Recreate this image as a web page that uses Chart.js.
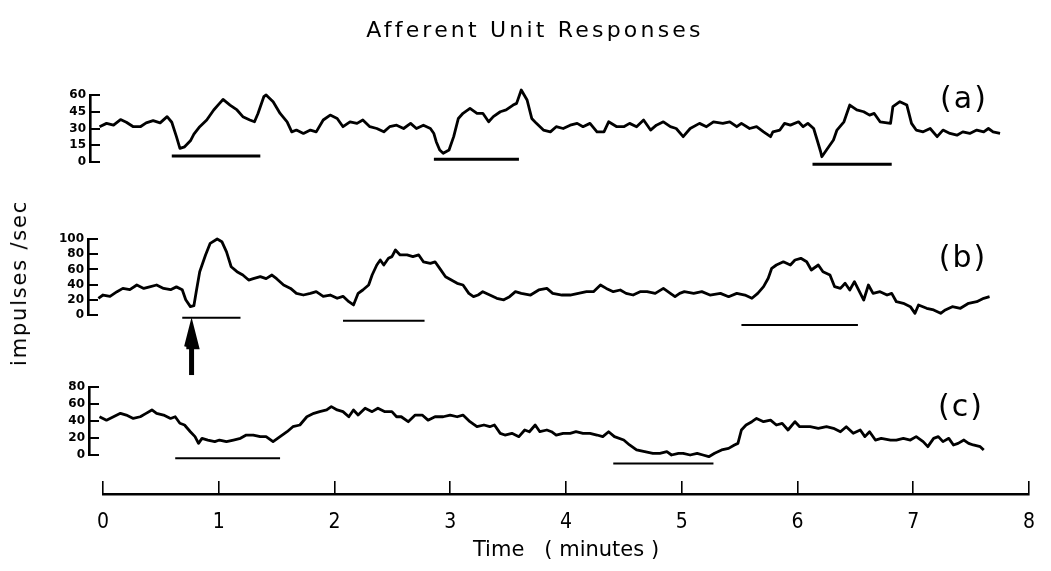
<!DOCTYPE html>
<html>
<head>
<meta charset="utf-8">
<title>Afferent Unit Responses</title>
<script src="https://cdn.jsdelivr.net/npm/chart.js@4.4.0/dist/chart.umd.min.js"></script>
<style>
  html, body { margin: 0; padding: 0; background: #fff; }
  #fig { position: relative; width: 1051px; height: 571px; overflow: hidden; }
  #fig canvas { position: absolute; left: 0; top: 0; }
  .txt { position: absolute; color: #000; white-space: nowrap; font-family: "DejaVu Sans", sans-serif;
         transform: translate(-50%, -50%); }
  #title { left: 535px; top: 29px; font-size: 22px; letter-spacing: 3.2px; }
  #ylabel { left: 19px; top: 283px; font-size: 21px; letter-spacing: 1.8px;
            transform: translate(-50%, -50%) rotate(-90deg); }
  .panel { font-size: 30px; letter-spacing: 2px; }
</style>
</head>
<body>
<div id="fig">
  <canvas id="chartA" width="1051" height="571"></canvas>
  <canvas id="chartB" width="1051" height="571"></canvas>
  <canvas id="chartC" width="1051" height="571"></canvas>
  <canvas id="chartTime" width="1051" height="571"></canvas>
  <div class="txt" id="title">Afferent Unit Responses</div>
  <div class="txt" id="ylabel">impulses /sec</div>
  <div class="txt panel" style="left:964px; top:97px;">(a)</div>
  <div class="txt panel" style="left:963px; top:256px;">(b)</div>
  <div class="txt panel" style="left:961px; top:405px;">(c)</div>
</div>
<script>
// ---- data (time in minutes, rate in impulses/sec) ----
const timeA = [-0.03,0.03,0.09,0.15,0.20,0.26,0.32,0.37,0.43,0.49,0.55,0.59,0.63,0.66,0.70,0.75,0.78,0.83,0.89,0.95,
  1.00,1.03,1.09,1.15,1.20,1.26,1.30,1.33,1.38,1.40,1.46,1.52,1.58,1.62,1.66,1.72,1.78,1.83,1.89,1.95,2.01,2.06,
  2.12,2.18,2.23,2.29,2.35,2.41,2.46,2.52,2.58,2.64,2.69,2.75,2.81,2.84,2.86,2.89,2.92,2.97,3.01,3.05,
  3.09,3.15,3.21,3.26,3.31,3.35,3.41,3.46,3.52,3.55,3.59,3.64,3.68,3.72,3.78,3.84,3.89,3.95,4.01,4.07,
  4.12,4.18,4.24,4.30,4.34,4.41,4.47,4.52,4.58,4.64,4.70,4.75,4.81,4.87,4.92,
  4.98,5.04,5.12,5.18,5.24,5.32,5.38,5.44,5.48,5.55,5.61,5.67,5.73,5.75,5.81,5.85,5.90,5.97,6.01,6.05,
  6.10,6.13,6.16,6.17,6.21,6.27,6.30,6.36,6.41,6.47,6.53,6.58,6.62,6.67,6.76,6.78,6.84,6.90,6.94,6.98,
  7.04,7.10,7.16,7.21,7.27,7.33,7.38,7.44,7.50,7.56,7.60,7.64,7.70];
const rateA = [31.6,34.6,33,38,35.6,31.6,31.6,35,37,35,40.6,35.6,22.7,12.2,13.6,19,24.9,31.6,37.6,46.6,
  52.5,56,51,46.6,40.6,37.6,36,43.5,58.5,60,54,43.5,36,27,28.6,25.6,28.6,27,37.6,42,39,31.6,
  36,34.6,37.6,31.6,30,27,31.6,33,30,34.6,30,33,30,25.5,18.2,10.7,7.8,10.7,22.7,39,
  43.6,48,43.6,43.6,36,40.6,45,46.6,51,52.5,64.5,55.5,39,34.6,28.6,27,31.6,30,33,34.6,
  31.6,34.6,27,27,36,31.6,31.6,34.6,31.6,37.6,28.6,33,36,31.6,30,
  22.7,30,34.6,31.6,36,34.6,36,31.6,34.6,30,31.6,27,22.7,27,28.6,34.6,33,36,31.6,34.6,
  30,19.7,9.2,4.7,10.7,19.7,28.6,36,51,46.6,45,42,43.5,36,34.6,49.5,54,51,34.6,28.6,
  27,30,22.7,28.6,25.6,24,27,25.6,28.6,27,30,27,25.6];

const timeB = [-0.04,0.00,0.06,0.12,0.17,0.23,0.29,0.35,0.40,0.46,0.52,0.58,0.63,0.68,0.71,0.75,0.78,0.80,0.83,0.88,
  0.92,0.98,1.02,1.06,1.10,1.15,1.20,1.25,1.29,1.35,1.40,1.45,1.49,1.55,1.61,1.66,1.72,1.78,1.83,1.89,
  1.95,2.01,2.06,2.11,
  2.15,2.19,2.23,2.28,2.31,2.35,2.38,2.41,2.45,2.48,2.51,2.55,2.61,2.66,2.71,2.75,2.81,2.85,2.89,2.94,
  2.99,3.04,3.09,3.14,3.18,3.22,3.26,3.32,3.38,3.44,3.49,3.54,3.59,3.67,3.74,3.81,3.86,3.94,4.01,4.08,
  4.15,4.21,4.27,4.32,4.38,4.44,4.49,4.55,4.61,4.67,4.74,4.81,4.87,4.91,4.95,
  4.99,5.07,5.14,5.21,5.30,5.37,5.44,5.51,5.57,5.62,5.67,5.71,5.74,5.78,5.84,5.90,5.94,5.99,6.04,6.08,
  6.14,6.18,6.24,6.28,6.33,6.37,6.41,6.45,6.53,6.57,6.61,6.67,6.73,6.77,6.81,6.87,6.93,6.97,7.00,7.07,
  7.13,7.19,7.23,7.29,7.36,7.43,7.50,7.56,7.61];
const rateB = [22,26.3,24.6,30.7,35,33.3,39.5,35,37,39.5,35,33.3,37,33.3,20,11,12.3,30.7,57,79,
  94.3,100,96.5,83,63.5,57,52.6,46,47.8,50.4,47.8,52.6,47.8,39.5,35,28.5,26.3,28.5,30.7,24.6,
  26.3,22,24.6,17.5,
  13.2,28.5,32.9,39.5,52.6,65.8,72.4,65.8,74.6,76.8,85.5,79,79,76.8,79,70,68,70,61.4,50.4,
  46,41.7,39.5,28.5,24.1,26.3,30.7,26.3,22,20,24.1,30.7,28.5,26.3,32.9,35,28.5,26.3,26.3,28.5,
  30.7,30.7,39.5,35,30.7,32.9,28.5,26.3,30.7,30.7,28.5,35,28.5,24.1,28.5,
  30.7,28.5,30.7,26.3,28.5,24.1,28.5,26.3,22,28.5,37.3,48.3,61.4,65.8,70,65.8,72.4,74.6,70,59.2,
  65.8,57,52.6,37.3,35,41.7,32.9,43.9,19.7,39.5,28.5,30.7,26.3,28.5,17.5,15.4,11,2.2,13.2,8.8,
  6.6,2.2,6.6,11,8.8,15.4,17.5,22,24.1];

const timeC = [-0.03,0.03,0.09,0.15,0.20,0.26,0.32,0.37,0.42,0.46,0.52,0.58,0.62,0.66,0.70,0.75,0.79,0.82,0.85,0.90,
  0.96,1.00,1.06,1.12,1.18,1.23,1.29,1.35,1.40,1.46,1.52,1.58,1.63,1.69,1.75,1.81,1.86,1.92,1.96,2.01,
  2.06,2.11,
  2.15,2.19,2.25,2.31,2.36,2.42,2.48,2.52,2.56,2.62,2.68,2.74,2.79,2.85,2.92,2.98,3.04,3.09,3.15,3.21,
  3.27,3.32,3.36,3.41,3.45,3.51,3.57,3.62,3.66,3.71,3.75,3.81,3.85,3.89,3.95,4.01,4.06,4.12,4.18,4.24,
  4.29,4.34,4.39,4.47,4.52,4.58,4.65,4.72,4.78,4.84,4.88,4.94,
  4.98,5.04,5.10,5.15,5.20,5.25,5.31,5.37,5.42,5.45,5.48,5.52,5.57,5.61,5.67,5.73,5.78,5.83,5.88,5.94,
  5.98,6.07,6.14,6.21,6.27,6.33,6.38,6.44,6.50,6.54,6.58,6.63,6.68,6.76,6.81,6.87,6.93,6.98,7.04,7.08,
  7.13,7.17,7.21,7.26,7.30,7.34,7.39,7.43,7.47,7.53,7.56];
const rateC = [45,41,45,49,47,43,45,49,53,49,47,43,45,37.3,35.3,27.4,21.6,13.7,19.6,17.6,
  15.7,17.6,15.7,17.6,19.6,23.5,23.5,21.6,21.6,15.7,21.6,27.4,33.3,35.3,45,49,51,53,56.9,53,
  51,45,
  53,47,55,51,55,51,51,45,45,39.2,47,47,41,45,45,47,45,47,39.2,33.3,
  35.3,33.3,35.3,25.5,23.5,25.5,21.6,29.4,27.4,35.3,27.4,29.4,27.4,23.5,25.5,25.5,27.4,25.5,25.5,23.5,
  21.6,27.4,21.6,17.6,11.8,5.9,3.9,2,2,3.9,0,2,
  2,0,2,0,-2,2,5.9,7.8,11.8,13.7,29.4,35.3,39.2,43,39.2,41,35.3,37.3,29.4,39.2,
  33.3,33.3,31.4,33.3,31.4,27.4,33.3,25.5,29.4,21.6,27.4,17.6,19.6,17.6,17.6,19.6,17.6,21.6,15.7,9.8,
  19.6,21.6,15.7,19.6,11.8,13.7,17.6,13.7,11.8,9.8,5.9];

// stimulus bars: [start, end] in minutes, and the level (in the panel's units) they sit at
const stimA = [[0.59, 1.35], [2.84, 3.57], [6.09, 6.77]];
const stimLevelA = [5.4, 2.4, -2.1];
const stimB = [[0.68, 1.18], [2.06, 2.76], [5.48, 6.48]];
const stimLevelB = [-3.5, -7.5, -13.2];
const stimC = [[0.62, 1.52], [4.38, 5.24]];
const stimLevelC = [-3.9, -10];

// arrow under the first stimulus of (b): time, tail level, tip level, head base level, head half width (min)
const arrowTime = 0.76;
const arrowTail = -79;
const arrowTip = -15;
const arrowBase = -42;
const arrowHalf = 0.045;

const ticksA = [0, 15, 30, 45, 60];
const ticksB = [0, 20, 40, 60, 80, 100];
const ticksC = [0, 20, 40, 60, 80];
const timeTicks = [0, 1, 2, 3, 4, 5, 6, 7, 8];

const INK = '#000';
const TICK_FONT = { family: 'DejaVu Sans', size: 12, weight: 'bold' };

function traceData(times, rates) {
    return times.map((t, i) => ({ x: t, y: rates[i] }));
}

function barSets(stims, levels, width) {
    return stims.map((s, i) => ({
        data: [{ x: s[0], y: levels[i] }, { x: s[1], y: levels[i] }],
        borderColor: INK,
        borderWidth: width,
        pointRadius: 0,
        clip: false
    }));
}

// points outside the chart area are not drawn, so the head is a stroked outline
function arrowSets() {
    return [
        {
            data: [{ x: arrowTime, y: arrowTail }, { x: arrowTime, y: arrowTip - 4 }],
            borderColor: INK, borderWidth: 5, pointRadius: 0, clip: false
        },
        {
            data: [
                { x: arrowTime - arrowHalf, y: arrowBase },
                { x: arrowTime, y: arrowTip },
                { x: arrowTime + arrowHalf, y: arrowBase },
                { x: arrowTime - arrowHalf, y: arrowBase }
            ],
            borderColor: INK, borderWidth: 4.5, borderJoinStyle: 'miter', pointRadius: 0, clip: false
        }
    ];
}

/* one panel: chart area spans exactly the y tick range */
function drawPanel(id, p) {
    const datasets = [{
        data: traceData(p.times, p.rates),
        borderColor: INK,
        borderWidth: 2.8,
        borderJoinStyle: 'round',
        pointRadius: 0,
        tension: 0,
        clip: false
    }].concat(barSets(p.stims, p.levels, p.barWidth), p.extra || []);

    return new Chart(document.getElementById(id), {
        type: 'line',
        data: { datasets },
        options: {
            responsive: false,
            animation: false,
            events: [],
            layout: { padding: { left: p.axisX - 60, right: 16, top: p.top, bottom: 571 - p.zero } },
            plugins: { legend: { display: false }, tooltip: { enabled: false } },
            scales: {
                x: { type: 'linear', display: false, min: p.xMin, max: 8 },
                y: {
                    min: 0,
                    max: p.ticks[p.ticks.length - 1],
                    afterFit: s => { s.width = 60; },
                    afterBuildTicks: s => { s.ticks = p.ticks.map(v => ({ value: v })); },
                    border: { display: true, color: INK, width: 2.6 },
                    grid: { drawOnChartArea: false, drawTicks: true, tickLength: -10, color: INK, lineWidth: 2 },
                    ticks: { autoSkip: false, padding: 14, color: INK, font: TICK_FONT }
                }
            }
        }
    });
}

drawPanel('chartA', {
    times: timeA, rates: rateA, stims: stimA, levels: stimLevelA, barWidth: 3,
    ticks: ticksA, axisX: 90, top: 95, zero: 162, xMin: -0.112
});

drawPanel('chartB', {
    times: timeB, rates: rateB, stims: stimB, levels: stimLevelB, barWidth: 2,
    ticks: ticksB, axisX: 88, top: 239, zero: 315, xMin: -0.129,
    extra: arrowSets()
});

drawPanel('chartC', {
    times: timeC, rates: rateC, stims: stimC, levels: stimLevelC, barWidth: 2,
    ticks: ticksC, axisX: 89, top: 387, zero: 455, xMin: -0.12
});

/* shared time axis: thin chart area, grid lines act as upward ticks */
new Chart(document.getElementById('chartTime'), {
    type: 'line',
    data: { datasets: [] },
    options: {
        responsive: false,
        animation: false,
        events: [],
        layout: { padding: { left: 103, right: 16, top: 481, bottom: 0 } },
        plugins: { legend: { display: false }, tooltip: { enabled: false } },
        scales: {
            x: {
                type: 'linear',
                min: 0,
                max: 8,
                afterFit: s => { s.height = 77; },
                afterBuildTicks: s => { s.ticks = timeTicks.map(v => ({ value: v })); },
                border: { display: true, color: INK, width: 2.6 },
                grid: { drawOnChartArea: true, drawTicks: false, color: INK, lineWidth: 1.6 },
                ticks: { padding: 16, color: INK, font: { family: 'DejaVu Sans Condensed', size: 21 } },
                title: {
                    display: true,
                    text: 'Time   ( minutes )',
                    color: INK,
                    font: { family: 'DejaVu Sans', size: 21 },
                    padding: { top: 0, bottom: 8 }
                }
            },
            y: { display: false, min: 0, max: 1 }
        }
    }
});
</script>
</body>
</html>
